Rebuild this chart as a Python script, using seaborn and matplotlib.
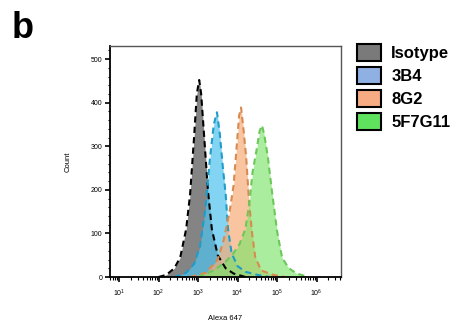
import numpy as np
import pandas as pd
import matplotlib
matplotlib.use("Agg")
import matplotlib.pyplot as plt
from matplotlib.patches import Patch
from matplotlib.ticker import MultipleLocator, LogLocator, NullFormatter
import seaborn as sns

# ---- data (log10 fluorescence, counts) ----
series_names = ["Isotype", "3B4", "8G2", "5F7G11"]

iso_logx = [2.0, 2.2, 2.4, 2.55, 2.7, 2.8, 2.9, 2.97, 3.03, 3.08, 3.15, 3.25, 3.35, 3.5, 3.7, 3.9, 4.2]
iso_count = [0, 5, 20, 45, 110, 190, 320, 420, 452, 420, 330, 200, 110, 50, 20, 8, 0]

b3_logx = [2.4, 2.7, 2.9, 3.05, 3.18, 3.3, 3.4, 3.48, 3.55, 3.63, 3.7, 3.76, 3.85, 4.0, 4.2, 4.5, 4.8]
b3_count = [0, 10, 30, 70, 152, 270, 350, 378, 330, 250, 190, 110, 55, 25, 12, 5, 0]

g8_logx = [2.8, 3.2, 3.5, 3.65, 3.8, 3.9, 3.98, 4.04, 4.09, 4.15, 4.22, 4.29, 4.37, 4.45, 4.6, 4.9, 5.2]
g8_count = [0, 10, 40, 85, 150, 210, 300, 370, 389, 340, 274, 175, 99, 45, 15, 5, 0]

f5_logx = [3.0, 3.4, 3.7, 3.9, 4.05, 4.2, 4.3, 4.38, 4.48, 4.56, 4.62, 4.68, 4.77, 4.87, 5.0, 5.13, 5.3, 5.5, 5.8]
f5_count = [0, 15, 35, 55, 75, 110, 170, 240, 290, 335, 348, 325, 274, 198, 106, 44, 20, 8, 0]

y_ticks = [0, 100, 200, 300, 400, 500]

fill_colors = ["#6f6f6f", "#4fc3ee", "#f7ad78", "#7fe46a"]
fill_alpha = [0.85, 0.7, 0.7, 0.65]
edge_colors = ["#000000", "#1f9cc8", "#d98a50", "#6cc85a"]
legend_colors = ["#7a7a7a", "#8fb0e2", "#f6ab82", "#5fe35f"]

frames = [
    pd.DataFrame({"logx": iso_logx, "count": iso_count}),
    pd.DataFrame({"logx": b3_logx, "count": b3_count}),
    pd.DataFrame({"logx": g8_logx, "count": g8_count}),
    pd.DataFrame({"logx": f5_logx, "count": f5_count}),
]
for df in frames:
    df["fl"] = 10.0 ** df["logx"]

# ---- figure ----
sns.set_style("ticks")
plt.rcParams["font.family"] = ["Liberation Sans", "DejaVu Sans"]
plt.rcParams["mathtext.fontset"] = "custom"
plt.rcParams["mathtext.rm"] = "Liberation Sans"
plt.rcParams["text.color"] = "black"
plt.rcParams["axes.labelcolor"] = "black"
plt.rcParams["xtick.color"] = "black"
plt.rcParams["ytick.color"] = "black"

fig = plt.figure(figsize=(4.62, 3.27), dpi=100)
ax = fig.add_axes([110 / 462, 50 / 327, 231 / 462, 231 / 327])

for df, fc, fa, ec in zip(frames, fill_colors, fill_alpha, edge_colors):
    ax.fill_between(df["fl"], 0, df["count"], color=fc, alpha=fa, linewidth=0)
for df, ec in zip(frames, edge_colors):
    sns.lineplot(data=df, x="fl", y="count", ax=ax, color=ec, linewidth=1.5,
                 linestyle=(0, (3, 2)), sort=False, estimator=None)

ax.set_xscale("log")
ax.set_xlim(10 ** 0.772, 10 ** 6.62)
ax.set_ylim(0, 530)
ax.set_yticks(y_ticks)
ax.yaxis.set_minor_locator(MultipleLocator(20))
ax.xaxis.set_major_locator(LogLocator(base=10, numticks=10))
ax.xaxis.set_minor_locator(LogLocator(base=10, subs=np.arange(2, 10), numticks=20))
ax.xaxis.set_minor_formatter(NullFormatter())

ax.tick_params(axis="both", which="major", direction="out", length=3.5, width=1.2,
               labelsize=5, colors="black", pad=2)
ax.tick_params(axis="both", which="minor", direction="out", length=1.8, width=0.8, colors="black")
ax.tick_params(axis="x", which="major", pad=4)

ax.set_xlabel("Alexa 647", fontsize=5.5, labelpad=12, color="black")
ax.set_ylabel("Count", fontsize=5.5, labelpad=14, color="black")

for side in ["left", "bottom"]:
    ax.spines[side].set_color("black")
    ax.spines[side].set_linewidth(1.3)
for side in ["top", "right"]:
    ax.spines[side].set_color("#555555")
    ax.spines[side].set_linewidth(1.0)

handles = [Patch(facecolor=c, edgecolor="black", linewidth=1.5) for c in legend_colors]
leg = fig.legend(handles, series_names, loc="upper left",
                 bbox_to_anchor=(357 / 462, 1 - 44 / 327), frameon=False,
                 prop={"weight": "bold", "size": 12}, handlelength=1.45, handleheight=1.2,
                 handletextpad=0.6, labelspacing=0.35, borderpad=0, borderaxespad=0)
for t in leg.get_texts():
    t.set_color("black")

fig.text(12 / 462, 1 - 38 / 327, "b", fontsize=26, fontweight="bold", ha="left",
         va="baseline", color="black")

fig.savefig("out.png", dpi=100)
